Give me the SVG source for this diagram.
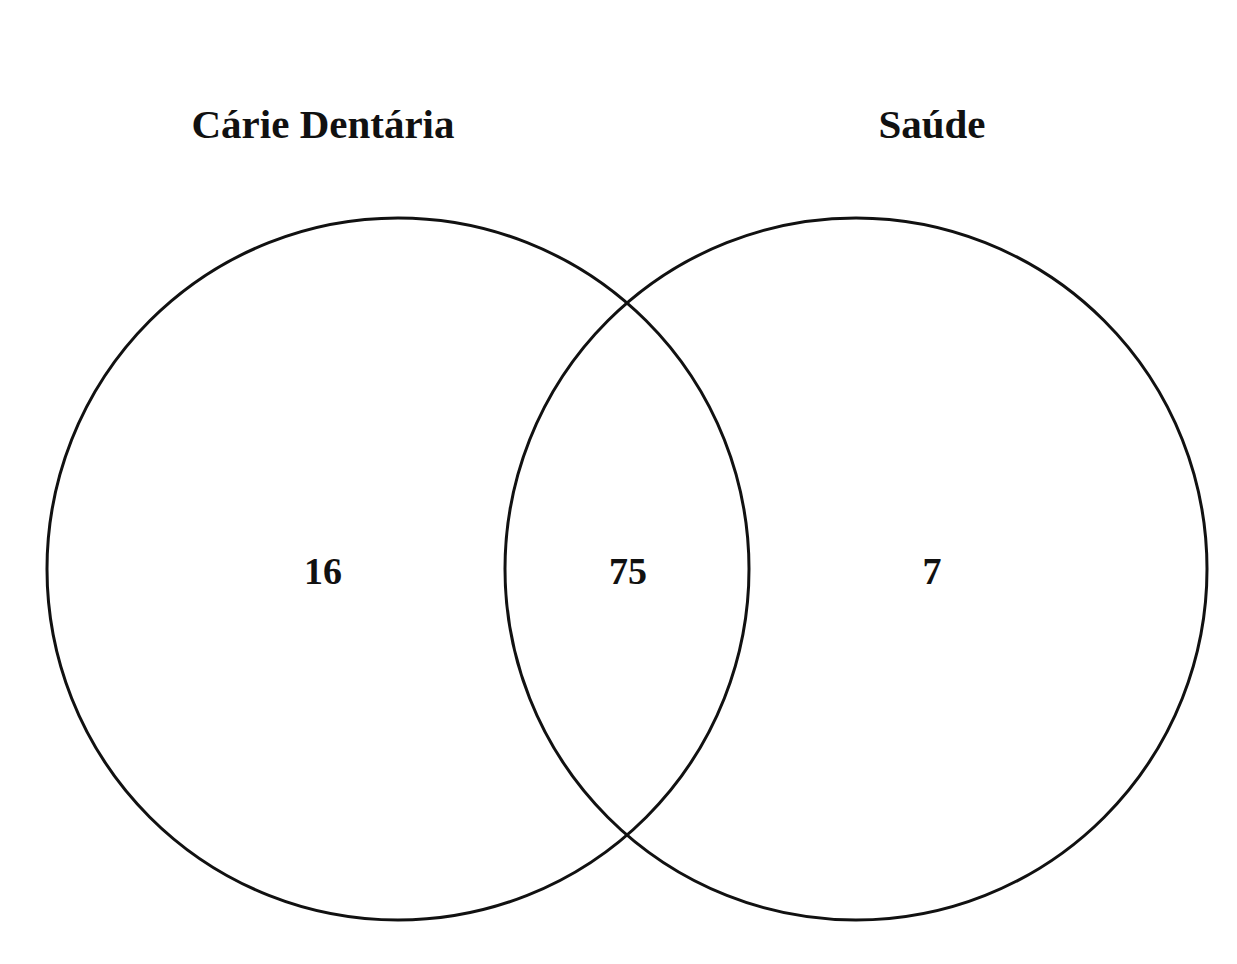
<svg xmlns="http://www.w3.org/2000/svg" width="1237" height="964" viewBox="0 0 1237 964">
<style>
.c{fill:none;stroke:#111;stroke-width:3}
.t{font-family:"Liberation Serif",serif;font-weight:bold;fill:#111;text-anchor:middle}
</style>
<rect width="1237" height="964" fill="#fff"/>
<g id="set-caries">
<circle class="c" cx="398" cy="569" r="351"/>
<text class="t" x="323" y="138" font-size="41">Cárie Dentária</text>
<text class="t" x="323" y="584" font-size="38">16</text>
</g>
<g id="set-saude">
<circle class="c" cx="856" cy="569" r="351"/>
<text class="t" x="932" y="138" font-size="41">Saúde</text>
<text class="t" x="932" y="584" font-size="38">7</text>
</g>
<g id="intersection">
<text class="t" x="628" y="584" font-size="38">75</text>
</g>
<g id="connectors"/>
</svg>
